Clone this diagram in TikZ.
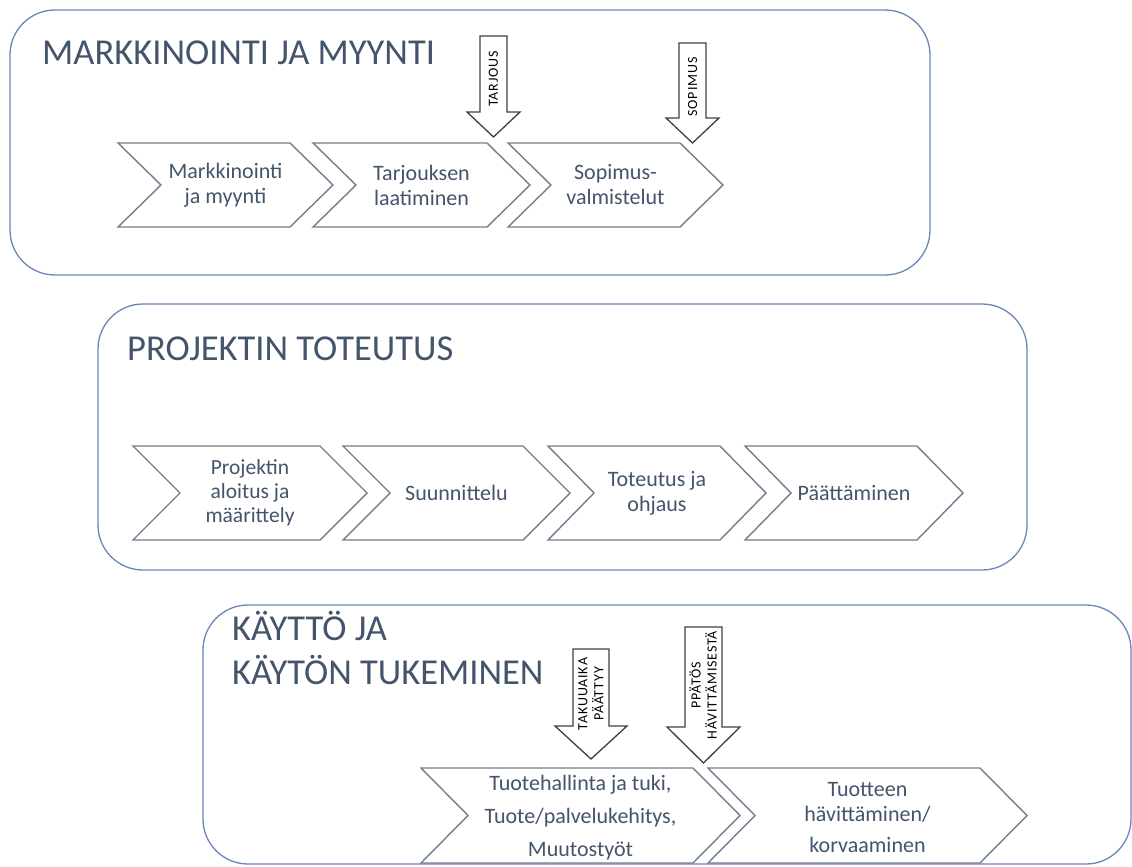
\documentclass[tikz,border=0pt]{standalone}
\usepackage{fontspec}
\setmainfont{Carlito}
\definecolor{txt}{HTML}{44546A}
\definecolor{frame}{HTML}{6A86B8}
\definecolor{chevline}{HTML}{737D8C}
\definecolor{arrline}{HTML}{404040}
% chevron: left, top, width, height, depth
\newcommand{\chevron}[5]{\draw[chev] (#1,#2) -- ++(#3-#5,0) -- ++(#5,#4/2) -- ++(-#5,#4/2) -- ++(-#3+#5,0) -- ++(#5,-#4/2) -- cycle;}
% block arrow: centre x, top, half shaft, head y, half head, tip y
\newcommand{\blockarrow}[6]{\draw[barrow] (#1-#3,#2) -- (#1+#3,#2) -- (#1+#3,#4) -- (#1+#5,#4) -- (#1,#6) -- (#1-#5,#4) -- (#1-#3,#4) -- cycle;}

\begin{document}
\begin{tikzpicture}[x=1pt,y=-1pt,
  panel/.style={draw=frame,line width=1.3pt,rounded corners=45pt},
  chev/.style={draw=chevline,line width=1.4pt,fill=white},
  barrow/.style={draw=arrline,line width=1.3pt,fill=white},
  title/.style={anchor=base west,text=txt,inner sep=0pt,font=\fontsize{36.5}{45}\selectfont},
  lbl/.style={align=center,text=txt,inner sep=0pt,font=\fontsize{22}{25}\selectfont},
  tag/.style={align=center,rotate=90,inner sep=0pt,font=\fontsize{14}{16}\selectfont\addfontfeatures{LetterSpace=6}}]
\useasboundingbox (0,0) rectangle (1132,867);
% MARKKINOINTI JA MYYNTI
\draw[panel] (10,10) rectangle (930,275);
\node[title] (t1) at (42,65) {MARKKINOINTI JA MYYNTI};
\chevron{118}{143}{215}{84}{43}
\chevron{313}{143}{217}{84}{43}
\chevron{508}{143}{215}{84}{43}
\node[lbl] (m1) at (225.5,185) {Markkinointi\\ja myynti};
\node[lbl] (m2) at (421.5,185) {Tarjouksen\\laatiminen};
\node[lbl] (m3) at (615.5,185) {Sopimus-\\valmistelut};
\blockarrow{493.5}{36}{13.5}{112}{26.5}{137}
\blockarrow{692.5}{43}{13.5}{118}{26.5}{143}
\node[tag] (a1) at (493.5,79) {TARJOUS};
\node[tag] (a2) at (692.5,87) {SOPIMUS};
% PROJEKTIN TOTEUTUS
\draw[panel] (98,304) rectangle (1027,570);
\node[title] (t2) at (127,360) {PROJEKTIN TOTEUTUS};
\chevron{133}{446}{234}{94}{47}
\chevron{343}{446}{227}{94}{47}
\chevron{548}{446}{218}{94}{46}
\chevron{745}{446}{218}{94}{46}
\node[lbl,font=\fontsize{21.5}{24}\selectfont] (p1) at (250,493) {Projektin\\aloitus ja\\määrittely};
\node[lbl] (p2) at (456.5,493) {Suunnittelu};
\node[lbl] (p3) at (657,493) {Toteutus ja\\ohjaus};
\node[lbl] (p4) at (854,493) {Päättäminen};
% KAYTTO JA KAYTON TUKEMINEN
\draw[panel] (203,605) rectangle (1131,864);
\node[title] (t3) at (232,640) {KÄYTTÖ JA};
\node[title] (t4) at (232,684) {KÄYTÖN TUKEMINEN};
\chevron{421}{768}{319}{95}{47}
\chevron{708}{768}{319}{95}{47}
\node[lbl,font=\fontsize{22}{33}\selectfont] (k1) at (580.5,818) {Tuotehallinta ja tuki,\\Tuote/palvelukehitys,\\Muutostyöt};
\node[lbl] (k2) at (867.5,818) {Tuotteen\\hävittäminen/\\[6pt]korvaaminen};
\blockarrow{591}{649}{18}{726}{36}{759}
\blockarrow{703.5}{627}{18.5}{727}{36.5}{763}
\node[tag] (a3) at (591,694) {TAKUUAIKA\\PÄÄTTYY};
\node[tag] (a4) at (703,685) {PPÄTÖS\\HÄVITTÄMISESTÄ};
\end{tikzpicture}
\end{document}
